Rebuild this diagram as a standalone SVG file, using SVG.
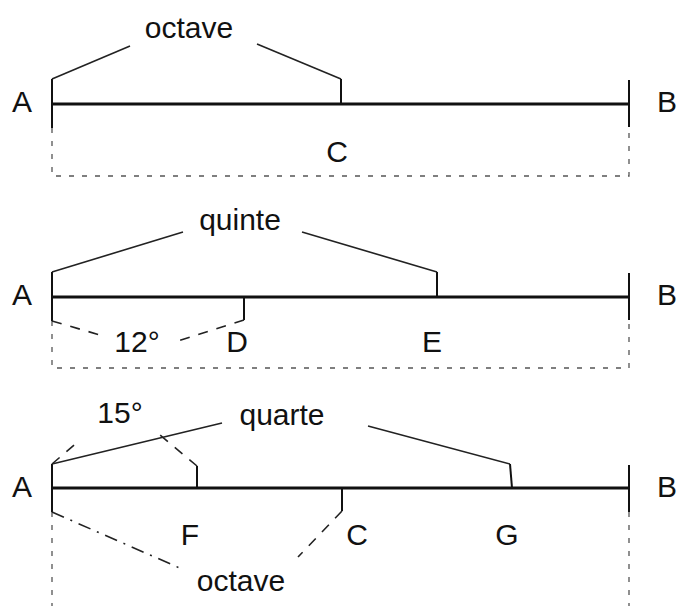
<svg xmlns="http://www.w3.org/2000/svg" width="679" height="606" viewBox="0 0 679 606">
<style>
text{font-family:"Liberation Sans",Arial,sans-serif;font-size:30px;fill:#111}
.mid{text-anchor:middle}
.main{stroke:#111;stroke-width:3;fill:none}
.tick{stroke:#111;stroke-width:2;fill:none}
.br{stroke:#222;stroke-width:1.6;fill:none}
.dot{stroke:#555;stroke-width:1.3;stroke-dasharray:5 8;fill:none}
.dash{stroke:#222;stroke-width:1.6;stroke-dasharray:10 9;fill:none}
.dd{stroke:#222;stroke-width:1.6;stroke-dasharray:13 7 2 7;fill:none}
</style>
<rect width="679" height="606" fill="#fff"/>
<g id="row1">
<line class="main" x1="52" y1="104" x2="629" y2="104"/>
<line class="tick" x1="52" y1="79" x2="52" y2="128"/>
<line class="tick" x1="629" y1="80" x2="629" y2="127"/>
<line class="tick" x1="341" y1="79" x2="341" y2="104"/>
<text x="12" y="112">A</text>
<text x="657" y="112">B</text>
<text class="mid" x="189" y="38">octave</text>
<text class="mid" x="337" y="162">C</text>
</g>
<g id="row2">
<line class="main" x1="52" y1="297" x2="629" y2="297"/>
<line class="tick" x1="52" y1="272" x2="52" y2="321"/>
<line class="tick" x1="629" y1="273" x2="629" y2="320"/>
<line class="tick" x1="437" y1="272" x2="437" y2="297"/>
<line class="tick" x1="244" y1="297" x2="244" y2="320"/>
<text x="12" y="305">A</text>
<text x="657" y="305">B</text>
<text class="mid" x="240" y="230">quinte</text>
<text class="mid" x="137" y="352">12°</text>
<text class="mid" x="237" y="352">D</text>
<text class="mid" x="432" y="352">E</text>
</g>
<g id="row3">
<line class="main" x1="52" y1="488" x2="629" y2="488"/>
<line class="tick" x1="52" y1="464" x2="52" y2="512"/>
<line class="tick" x1="629" y1="465" x2="629" y2="512"/>
<line class="tick" x1="197" y1="466" x2="197" y2="488"/>
<line class="tick" x1="510" y1="464" x2="512" y2="488"/>
<line class="tick" x1="342" y1="488" x2="342" y2="511"/>
<text x="12" y="497">A</text>
<text x="657" y="497">B</text>
<text class="mid" x="282" y="425">quarte</text>
<text class="mid" x="120" y="423">15°</text>
<text class="mid" x="190" y="545">F</text>
<text class="mid" x="357" y="545">C</text>
<text class="mid" x="507" y="545">G</text>
<text class="mid" x="241" y="591">octave</text>
</g>
<g id="connectors">
<polyline class="br" points="52,79 130,46"/>
<polyline class="br" points="257,44 341,79"/>
<polyline class="br" points="52,272 183,232"/>
<polyline class="br" points="302,232 437,272"/>
<polyline class="br" points="52,464 222,423"/>
<polyline class="br" points="368,426 510,464"/>
<path class="dot" d="M52,128V176H629V127"/>
<path class="dot" d="M52,321V368H629V320"/>
<path class="dot" d="M52,512V606M629,512V606"/>
<line class="dash" x1="52" y1="321" x2="100" y2="335"/>
<line class="dash" x1="244" y1="320" x2="178" y2="341"/>
<line class="dash" x1="52" y1="464" x2="80" y2="440"/>
<line class="dash" x1="197" y1="466" x2="160" y2="435"/>
<line class="dd" x1="52" y1="512" x2="182" y2="569"/>
<line class="dash" x1="342" y1="511" x2="298" y2="557"/>
</g>
</svg>
